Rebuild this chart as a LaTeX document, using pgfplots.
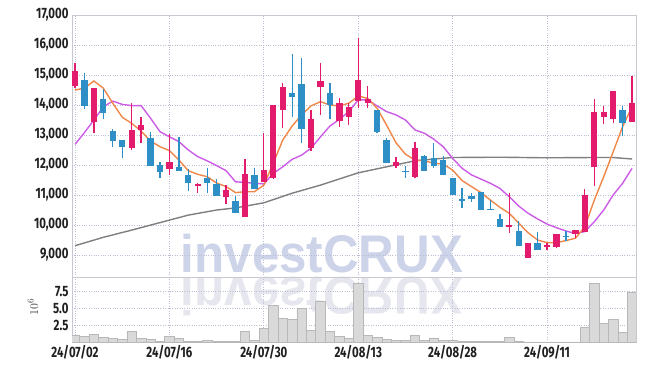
\documentclass[border=0pt]{standalone}
\usepackage{pgfplots}
\pgfplotsset{compat=1.18}
\usepackage{pgfplotstable}
\usepackage{fontspec}
\newfontfamily\tickfont[FakeStretch=0.76]{Fira Sans}
\newfontfamily\wmfont{Liberation Sans}
\definecolor{cup}{HTML}{E31B6D}
\definecolor{cdown}{HTML}{2E8FC6}
\definecolor{cma5}{HTML}{F0874A}
\definecolor{cma20}{HTML}{CC5CE8}
\definecolor{cma60}{HTML}{7F7F7F}
\definecolor{gridc}{HTML}{BCBED4}
\definecolor{axc}{HTML}{C8C8D0}
\definecolor{wm}{HTML}{CDD3E8}
\definecolor{wmr}{HTML}{E6E6EE}
\definecolor{volf}{HTML}{D9D9D9}
\definecolor{vold}{HTML}{B8B8B8}

\pgfplotstableread{
x open high low close
0 14650 15390 14560 15130
2 13440 14580 13080 14560
6 12580 14080 12490 13170
7 13180 13610 12720 13330
10 11860 13030 11670 12090
13 11300 11410 11060 11360
16 10940 11330 10700 11170
18 10280 12190 10280 11700
20 11420 13060 11420 11830
21 11580 13990 11550 13990
22 13830 14720 13220 14590
25 12580 13830 12480 13530
26 14610 15390 13670 14800
28 13480 14240 13260 14060
29 13610 14060 13330 13920
30 14140 16220 13890 14830
31 14060 14630 13890 14200
34 11980 12280 11910 12090
36 11610 12780 11560 12560
46 9950 11060 9740 10000
48 8890 9390 8890 9390
50 9280 9410 9170 9330
51 9260 9690 9250 9690
53 9700 9830 9560 9830
54 9780 11190 9780 11000
55 11920 14190 11300 13760
56 13610 13970 13370 13760
57 13520 14470 13390 14470
59 13440 14980 13440 14060
}\upc

\pgfplotstableread{
x open high low close
1 14830 15060 13880 13970
3 14200 14520 13520 13740
4 13130 13190 12590 12810
5 12830 12840 12220 12610
8 12910 13110 11970 11980
9 12000 12110 11560 11780
11 11920 12940 11800 11810
12 11670 11860 11140 11410
14 11560 11890 11080 11410
15 11380 11550 10980 10980
17 10810 10970 10390 10390
19 11670 11890 11210 11210
23 14390 15700 13610 14280
24 14700 15560 12720 13210
27 14390 14740 13520 14000
32 13830 13850 13080 13090
33 12830 12900 12070 12080
35 11800 11980 11580 11760
37 12300 12330 11800 11810
38 12220 12740 11890 11980
39 12170 12290 11660 11670
40 11560 11560 11000 11000
41 10860 11220 10560 10810
42 10970 11060 10780 10870
43 11090 11090 10500 10500
44 10530 10830 10490 10500
45 10200 10370 9940 9940
47 9800 10140 9310 9310
49 9390 9780 9170 9170
52 9630 9800 9480 9590
58 13830 13970 12980 13410
}\downc

\pgfplotstableread{
x vol
0 0.95
1 0.85
2 1.15
3 0.70
4 0.55
5 0.40
6 1.55
7 0.50
8 0.35
9 0.10
10 0.80
11 0.50
12 0.10
13 0.10
14 0.25
15 0.10
16 0.10
17 0.10
18 1.55
19 0.20
20 2.00
21 5.50
22 3.50
23 3.35
24 5.00
25 1.75
26 6.10
27 1.60
28 0.85
29 0.50
30 8.75
31 1.00
32 0.65
33 0.40
34 0.25
35 0.25
36 0.95
37 0.25
38 0.60
39 0.25
40 0.25
41 0.10
42 0.10
43 0.10
44 0.10
45 0.10
46 0.65
47 0.10
48 0.03
49 0.03
50 0.03
51 0.03
52 0.03
53 0.03
54 2.15
55 8.75
56 2.75
57 3.35
58 1.40
59 7.40
}\volt

\pgfplotsset{
  tickf/.style={font=\tickfont\bfseries\fontsize{15bp}{16bp}\selectfont, text=black!88},
  common/.style={
    scale only axis, width=564bp,
    xmin=-0.32, xmax=59.42,
    xtick={0,10,20,30,40,50},
    grid=major,
    major grid style={dotted, draw=gridc, line width=0.7bp},
    axis line style={draw=axc, line width=0.8bp},
    major tick length=0pt,
    tick style={draw=none},
    /pgf/number format/assume math mode=true,
  },
}

\begin{document}
\begin{tikzpicture}[x=1bp,y=1bp]
\useasboundingbox (0,0) rectangle (645,371);
\node[anchor=base, text=wm, font=\wmfont\bfseries\fontsize{53bp}{60bp}\selectfont, xscale=0.93, inner sep=0] at (322,99) {investCRUX};
\node[anchor=base, text=wmr, font=\wmfont\bfseries\fontsize{53bp}{60bp}\selectfont, xscale=0.93, yscale=-1, inner sep=0] at (322,94) {investCRUX};

\begin{axis}[common,
  at={(72bp,94bp)}, anchor=south west, height=262bp,
  ymin=8267, ymax=17000,
  ytick={9000,10000,...,17000},
  scaled y ticks=false,
  xticklabels={},
  yticklabel style={tickf},
  /pgf/number format/1000 sep={,},
]
\addplot[cma60, line width=1.4bp] coordinates {
(0,9310) (3,9590) (6,9830) (9,10080) (12,10330) (15,10500) (17,10570) (20,10740)
(23,11060) (26,11330) (30,11740) (33,11940) (36,12140) (38,12200) (40,12250)
(45,12260) (50,12240) (55,12250) (57,12250) (59,12200)};
\addplot[cma20, line width=1.4bp] coordinates {
(0,12690) (1,13080) (2,13500) (3,13940) (4,14130) (5,14020) (6,13980) (7,13980)
(8,13560) (9,13110) (10,12940) (11,12780) (12,12500) (13,12280) (14,12140)
(15,11980) (16,11810) (17,11440) (18,11420) (19,11390) (20,11370) (21,11720)
(22,11940) (23,12190) (24,12330) (25,12560) (26,12940) (27,13300) (28,13520)
(29,13780) (30,14170) (31,14170) (32,13970) (33,13780) (34,13670) (35,13500)
(36,13170) (37,13060) (38,12860) (39,12610) (40,12220) (41,11890) (42,11670)
(43,11530) (44,11390) (45,11220) (46,10940) (47,10630) (48,10390) (49,10200)
(50,10030) (51,9910) (52,9800) (53,9720) (54,9780) (55,10110) (56,10500)
(57,11000) (58,11390) (59,11890)};
\addplot[cma5, line width=1.4bp] coordinates {
(0,14500) (1,14560) (2,14800) (3,14560) (4,14060) (5,13590) (6,13390) (7,13130)
(8,12800) (9,12610) (10,12480) (11,12170) (12,11810) (13,11690) (14,11610)
(15,11400) (16,11280) (17,11080) (18,11110) (19,11110) (20,11330) (21,12060)
(22,12830) (23,13300) (24,13670) (25,13970) (26,14110) (27,14000) (28,13970)
(29,14060) (30,14300) (31,14220) (32,13890) (33,13330) (34,12740) (35,12360)
(36,12170) (37,12140) (38,12060) (39,12030) (40,11830) (41,11480) (42,11280)
(43,11080) (44,10830) (45,10590) (46,10390) (47,10060) (48,9740) (49,9500)
(50,9410) (51,9410) (52,9480) (53,9560) (54,9940) (55,10830) (56,11610)
(57,12440) (58,13280) (59,13940)};
% wicks
\addplot[cup, line width=1.3bp, quiver={u=0, v=\thisrow{high}-\thisrow{low}}] table[x=x, y=low] {\upc};
\addplot[cdown, line width=1.3bp, quiver={u=0, v=\thisrow{high}-\thisrow{low}}] table[x=x, y=low] {\downc};
% bodies
\addplot[cup, line width=6.3bp, quiver={u=0, v=\thisrow{close}-\thisrow{open}}] table[x=x, y=open] {\upc};
\addplot[cdown, line width=6.3bp, quiver={u=0, v=\thisrow{close}-\thisrow{open}}] table[x=x, y=open] {\downc};
\end{axis}

\begin{axis}[common,
  at={(72bp,29bp)}, anchor=south west, height=64.7bp,
  ymin=0, ymax=9.66,
  ytick={2.5,5,7.5},
  yticklabel style={tickf, /pgf/number format/fixed, /pgf/number format/fixed zerofill, /pgf/number format/precision=1},
  xticklabels={24/07/02,24/07/16,24/07/30,24/08/13,24/08/28,24/09/11},
  xticklabel style={tickf},
  ybar, bar width=1,
]
\addplot[draw=vold, fill=volf, line width=0.6bp] table[x=x, y=vol] {\volt};
\end{axis}
\node[rotate=90, text=black!75, font=\fontsize{13bp}{14bp}\selectfont] at (33,64) {$10^6$};
\end{tikzpicture}
\end{document}
